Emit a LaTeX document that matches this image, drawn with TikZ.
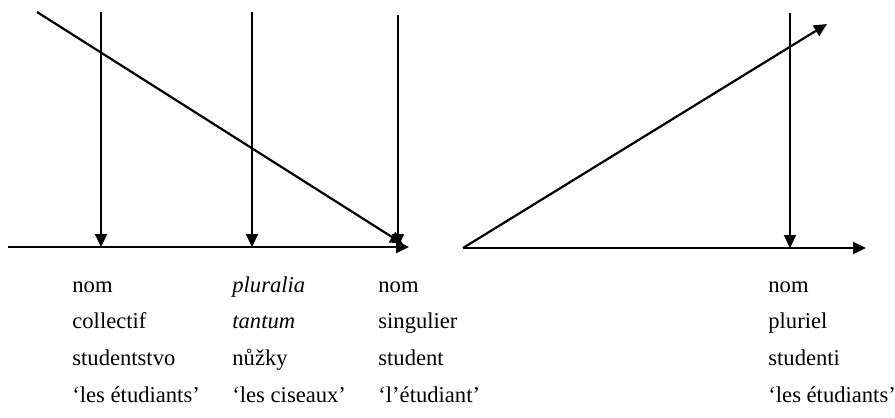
\documentclass[tikz,border=0pt]{standalone}
\usepackage{fontspec}
\setmainfont{Liberation Serif}
\usepackage{tikz}
\usetikzlibrary{arrows.meta}

\begin{document}
\begin{tikzpicture}[
      x=0.5pt, y=-0.5pt,
      a/.style={-{Triangle[length=6.5pt,width=6pt]}, line width=1.1pt},
      lex/.style={anchor=base west, inner sep=0pt, font=\fontsize{11.3}{13}\selectfont}
    ]
    \useasboundingbox (0,0) rectangle (895,418);

    % ---- left scheme ----
    \coordinate (lo)  at (8,247);
    \coordinate (le)  at (409,247);
    \coordinate (t1)  at (101,12);
    \coordinate (b1)  at (101,247);
    \coordinate (t2)  at (252,12);
    \coordinate (b2)  at (252,247);
    \coordinate (t3)  at (398,15);
    \coordinate (b3)  at (398,247);
    \coordinate (ds)  at (37,12);
    \coordinate (de)  at (403,244);

    \draw[a] (lo) -- (le);
    \draw[a] (t1) -- (b1);
    \draw[a] (t2) -- (b2);
    \draw[a] (t3) -- (b3);
    \draw[a] (ds) -- (de);

    % ---- right scheme ----
    \coordinate (ro)  at (463,248);
    \coordinate (re)  at (866,248);
    \coordinate (rd)  at (827,24);
    \coordinate (t4)  at (790,13);
    \coordinate (b4)  at (790,248);

    \draw[a] (ro) -- (re);
    \draw[a] (ro) -- (rd);
    \draw[a] (t4) -- (b4);

    % ---- labels ----
    \node[lex] (coll1) at (72,292) {nom};
    \node[lex] (coll2) at (72,328) {collectif};
    \node[lex] (coll3) at (72,365) {studentstvo};
    \node[lex] (coll4) at (72,402) {‘les étudiants’};

    \node[lex] (plur1) at (232,292) {\itshape pluralia};
    \node[lex] (plur2) at (232,328) {\itshape tantum};
    \node[lex] (plur3) at (232,365) {nůžky};
    \node[lex] (plur4) at (232,402) {‘les ciseaux’};

    \node[lex] (sing1) at (378,292) {nom};
    \node[lex] (sing2) at (378,328) {singulier};
    \node[lex] (sing3) at (378,365) {student};
    \node[lex] (sing4) at (378,402) {‘l’étudiant’};

    \node[lex] (pl1) at (768,292) {nom};
    \node[lex] (pl2) at (768,328) {pluriel};
    \node[lex] (pl3) at (768,365) {studenti};
    \node[lex] (pl4) at (768,402) {‘les étudiants’};

    \end{tikzpicture}
\end{document}
